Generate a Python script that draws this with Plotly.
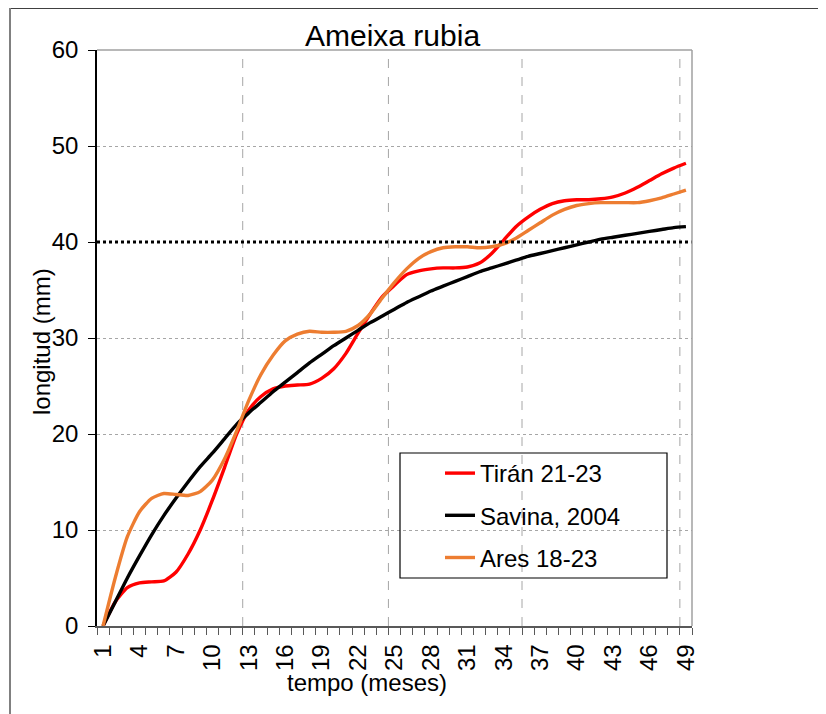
import plotly.graph_objects as go

# ---- data ----
months = list(range(1, 50))
tiran = [0, 2.5, 4, 4.5, 4.6, 4.7, 5.6, 7.5, 10, 13.1, 16.5, 20, 22.5, 23.9, 24.7, 25, 25.1, 25.2,
         25.8, 26.8, 28.4, 30.5, 32.5, 34.3, 35.5, 36.6, 37, 37.2, 37.3, 37.3, 37.4, 37.8, 38.8,
         40.2, 41.6, 42.6, 43.4, 44, 44.3, 44.4, 44.4, 44.5, 44.7, 45.1, 45.7, 46.4, 47.1, 47.7, 48.2]
savina = [0, 2.5, 5, 7.3, 9.5, 11.5, 13.3, 15, 16.6, 18, 19.5, 21, 22.2, 23.3, 24.4, 25.4, 26.4,
          27.4, 28.3, 29.2, 30, 30.8, 31.6, 32.3, 33, 33.7, 34.3, 34.9, 35.4, 35.9, 36.4, 36.9,
          37.3, 37.7, 38.1, 38.5, 38.8, 39.1, 39.4, 39.7, 40, 40.3, 40.5, 40.7, 40.9, 41.1, 41.3,
          41.5, 41.6]
ares = [0, 5, 9.3, 11.9, 13.3, 13.8, 13.7, 13.6, 14, 15.2, 17.4, 20.3, 23.5, 26.2, 28.2, 29.7,
        30.4, 30.7, 30.6, 30.6, 30.7, 31.3, 32.5, 34.2, 35.8, 37.2, 38.3, 39, 39.4, 39.5, 39.5,
        39.4, 39.5, 39.8, 40.4, 41.2, 42, 42.8, 43.4, 43.8, 44, 44.1, 44.1, 44.1, 44.1, 44.3,
        44.6, 45, 45.4]
series_names = ["Tirán 21-23", "Savina, 2004", "Ares 18-23"]
series_colors = ["#FF0000", "#000000", "#ED7D31"]

x_tick_vals = list(range(1, 50, 3))
x_tick_text = [str(v) for v in x_tick_vals]
y_tick_vals = [0, 10, 20, 30, 40, 50, 60]
ref_level = 40
v_grid = [12.5, 24.5, 35.5, 48.5]

FONT = "Liberation Sans, Arial, sans-serif"

fig = go.Figure()
for name, vals, col in zip(series_names, [tiran, savina, ares], series_colors):
    fig.add_trace(go.Scatter(x=months, y=vals, mode="lines", name=name,
                             line=dict(color=col, width=3.4, shape="spline", smoothing=0.6),
                             legendgroup=name))

# plot area in page pixels: x 97..692, y 50..626 (page has 8px body offset)
PX0, PX1, PY0, PY1 = 97, 692, 50, 626
W, H = PX1 - PX0, PY1 - PY0


def px(x):
    return (x - PX0) / W


def py(y):
    return (PY1 - y) / H


shapes = []
for gx in v_grid:
    shapes.append(dict(type="line", xref="x", yref="paper", x0=gx, x1=gx, y0=0, y1=1,
                       line=dict(color="#a6a6a6", width=1, dash="dash"), layer="below"))
shapes.append(dict(type="line", xref="paper", yref="y", x0=0, x1=1, y0=ref_level, y1=ref_level,
                   line=dict(color="#000000", width=3, dash="dot"), layer="above"))
shapes.append(dict(type="line", xref="paper", yref="paper", x0=0, x1=1, y0=1, y1=1,
                   line=dict(color="#a0a0a0", width=1.5)))
shapes.append(dict(type="line", xref="paper", yref="paper", x0=1, x1=1, y0=0, y1=1,
                   line=dict(color="#a0a0a0", width=1.5)))
shapes.append(dict(type="line", xref="paper", yref="paper", x0=px(10), x1=px(830), y0=py(8), y1=py(8),
                   line=dict(color="#000000", width=1.5)))
shapes.append(dict(type="line", xref="paper", yref="paper", x0=px(10), x1=px(10), y0=py(8), y1=py(720),
                   line=dict(color="#808080", width=2)))
shapes.append(dict(type="rect", xref="paper", yref="paper",
                   x0=px(400), x1=px(667), y0=py(578), y1=py(453),
                   line=dict(color="#000000", width=1.2), fillcolor="rgba(0,0,0,0)"))

fig.update_layout(
    width=826, height=714,
    margin=dict(l=PX0 - 8, r=826 - PX1 + 8, t=PY0 - 8, b=714 - PY1 + 8),
    paper_bgcolor="white", plot_bgcolor="white",
    font=dict(family=FONT, color="#000000"),
    showlegend=True,
    legend=dict(x=px(440), y=py(451), xanchor="left", yanchor="top",
                bgcolor="rgba(0,0,0,0)", borderwidth=0, font=dict(size=24, family=FONT),
                itemwidth=30, tracegroupgap=8),
    shapes=shapes,
    annotations=[
        dict(text="Ameixa rubia", xref="paper", yref="paper", x=px(392), y=py(36),
             xanchor="center", yanchor="middle", showarrow=False, font=dict(size=30, family=FONT)),
        dict(text="tempo (meses)", xref="paper", yref="paper", x=px(367), y=py(682),
             xanchor="center", yanchor="middle", showarrow=False, font=dict(size=24, family=FONT)),
        dict(text="longitud (mm)", xref="paper", yref="paper", x=px(41), y=py(342),
             xanchor="center", yanchor="middle", showarrow=False, textangle=-90,
             font=dict(size=24, family=FONT)),
    ],
)

fig.update_xaxes(
    range=[0.5, 49.5], tickmode="array", tickvals=x_tick_vals, ticktext=x_tick_text,
    ticks="", tickangle=-90, tickfont=dict(size=24, family=FONT), ticklabelstandoff=7,
    minor=dict(tick0=0.5, dtick=1, ticks="outside", ticklen=7, tickcolor="#595959", tickwidth=1.2,
               showgrid=False),
    showline=True, linecolor="#595959", linewidth=1.5, showgrid=False, zeroline=False,
)
fig.update_yaxes(
    range=[0, 60], tickmode="array", tickvals=y_tick_vals, ticks="outside", ticklen=7,
    tickcolor="#000000", tickwidth=1.2, tickfont=dict(size=24, family=FONT), ticklabelstandoff=5,
    showline=True, linecolor="#000000", linewidth=1.5,
    showgrid=True, gridcolor="#a6a6a6", griddash="dot", gridwidth=1, zeroline=False,
)

fig.write_html("out.html")
